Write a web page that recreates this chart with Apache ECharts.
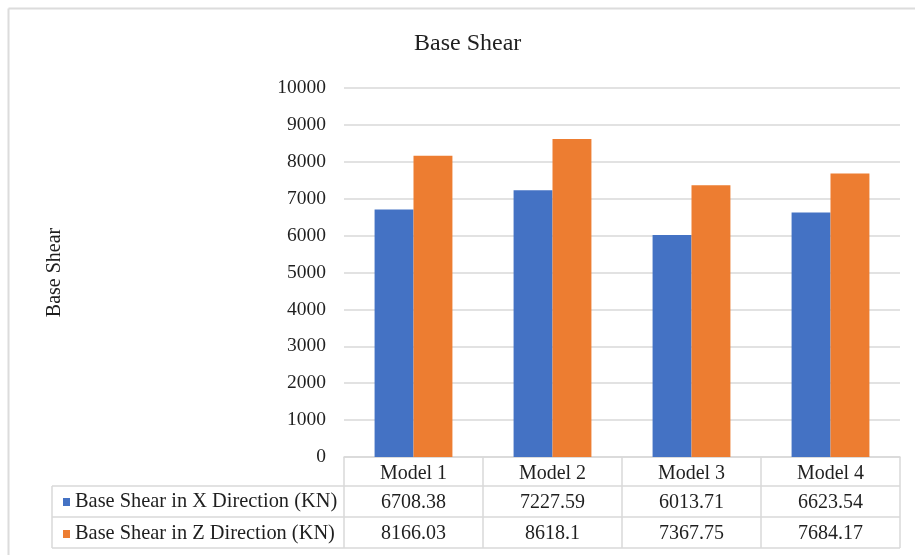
<!DOCTYPE html>
<html>
<head>
<meta charset="utf-8">
<script src="https://cdn.jsdelivr.net/npm/echarts@6/dist/echarts.min.js"></script>
<style>
  html, body { margin: 0; padding: 0; background: #ffffff; }
  #chart { width: 915px; height: 555px; }
</style>
</head>
<body>
<div id="chart"></div>
<script>
// Chart data
const categories = ['Model 1', 'Model 2', 'Model 3', 'Model 4'];
const seriesNames = ['Base Shear in X Direction (KN)', 'Base Shear in Z Direction (KN)'];
const shearX = [6708.38, 7227.59, 6013.71, 6623.54];
const shearZ = [8166.03, 8618.1, 7367.75, 7684.17];
const yMin = 0;
const yMax = 10000;
const yStep = 1000;

// Layout and style
const FONT = 'Liberation Serif';
const TEXT = '#1f1f1f';
const RULE = '#d9d9d9';
const W = 915, H = 555;
const plotLeft = 344, plotRight = 900, plotTop = 88, axisY = 457;
const tableLeft = 52;
const rowBottoms = [486, 517, 548];   // lower edge of each table row
const colors = ['#4472C4', '#ED7D31'];

const chart = echarts.init(document.getElementById('chart'), null, { renderer: 'canvas' });

// Data table rules below the plot
const rules = [];
const line = (x1, y1, x2, y2, w, c) => ({
  type: 'line', silent: true,
  shape: { x1, y1, x2, y2 },
  style: { stroke: c || RULE, lineWidth: w || 1.5 }
});
rowBottoms.forEach(y => rules.push(line(tableLeft, y, plotRight, y)));
const colW = (plotRight - plotLeft) / categories.length;
for (let i = 0; i <= categories.length; i++) {
  const x = plotLeft + i * colW;
  rules.push(line(x, axisY, x, rowBottoms[rowBottoms.length - 1]));
}
rules.push(line(tableLeft, rowBottoms[0], tableLeft, rowBottoms[rowBottoms.length - 1]));
// Outer chart frame (top and left edges)
rules.push(line(8.5, 8.5, W, 8.5, 2, '#dcdcdc'));
rules.push(line(8.5, 8.5, 8.5, H, 2, '#dcdcdc'));

const valueAxis = (offset, values) => ({
  type: 'category',
  data: categories,
  position: 'bottom',
  offset: offset,
  axisLine: { show: false },
  axisTick: { show: false },
  axisLabel: {
    interval: 0, margin: 7,
    fontFamily: FONT, fontSize: 20, color: TEXT,
    formatter: (v, i) => String(values[i])
  }
});

chart.setOption({
  animation: false,
  backgroundColor: '#ffffff',
  title: {
    text: 'Base Shear',
    left: 414, top: 32, padding: 0,
    textStyle: { fontFamily: FONT, fontSize: 24, fontWeight: 'normal', color: TEXT }
  },
  legend: {
    orient: 'vertical',
    left: 63, top: 492, padding: 0,
    itemWidth: 7, itemHeight: 8, itemGap: 12,
    icon: 'rect',
    selectedMode: false,
    textStyle: { fontFamily: FONT, fontSize: 20.4, color: TEXT },
    data: seriesNames
  },
  grid: {
    left: plotLeft, right: W - plotRight, top: plotTop, bottom: H - axisY,
    containLabel: false
  },
  xAxis: [
    {
      type: 'category',
      data: categories,
      position: 'bottom',
      axisLine: { show: true, lineStyle: { color: RULE, width: 1.5 } },
      axisTick: { show: false },
      axisLabel: { interval: 0, margin: 7, fontFamily: FONT, fontSize: 20, color: TEXT }
    },
    valueAxis(29, shearX),
    valueAxis(60, shearZ)
  ],
  yAxis: {
    type: 'value',
    min: yMin, max: yMax, interval: yStep,
    axisLine: { show: false },
    axisTick: { show: false },
    splitLine: { lineStyle: { color: RULE, width: 1.5 } },
    axisLabel: {
      margin: 18, fontFamily: FONT, fontSize: 19.5, color: TEXT,
      formatter: v => String(v)
    },
    name: 'Base Shear',
    nameLocation: 'middle',
    nameRotate: 90,
    nameGap: 279,
    nameTextStyle: { fontFamily: FONT, fontSize: 20, color: TEXT }
  },
  series: [
    {
      name: seriesNames[0], type: 'bar', xAxisIndex: 0,
      data: shearX, barGap: '0%', barCategoryGap: '44%',
      itemStyle: { color: colors[0] }
    },
    {
      name: seriesNames[1], type: 'bar', xAxisIndex: 0,
      data: shearZ, barGap: '0%', barCategoryGap: '44%',
      itemStyle: { color: colors[1] }
    }
  ],
  graphic: rules
});
</script>
</body>
</html>
